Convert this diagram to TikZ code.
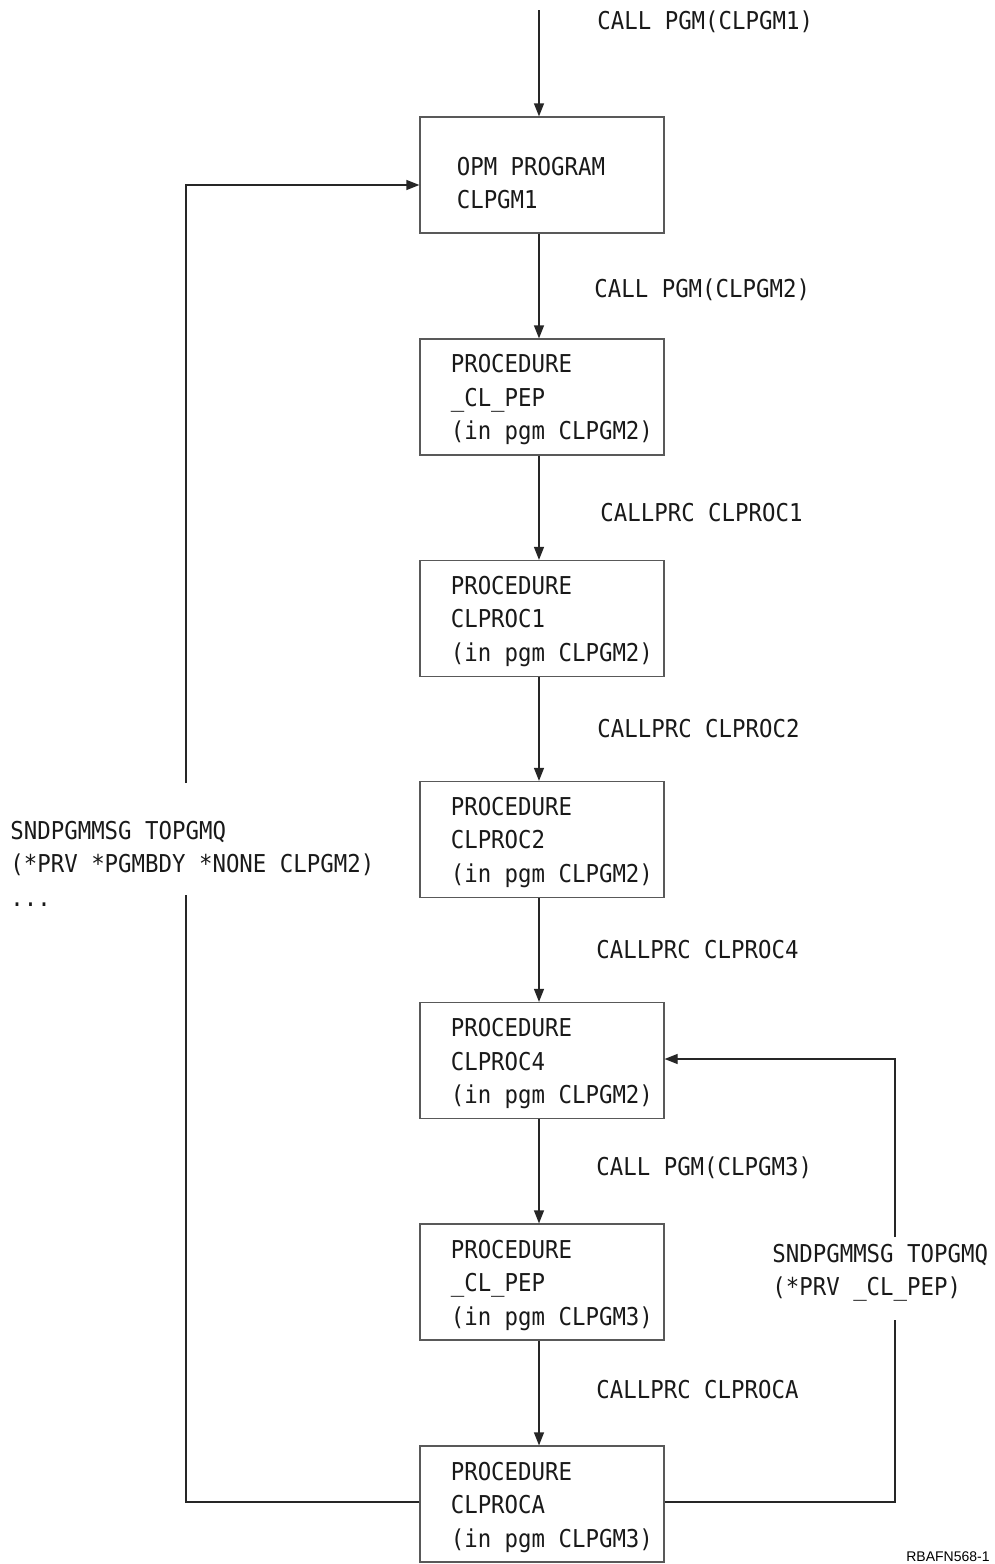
\documentclass[tikz,border=0pt]{standalone}
\usepackage{fontspec}
\setmonofont[FakeStretch=0.91]{DejaVu Sans Mono}
\newfontfamily\labelfont{Liberation Sans}
\usetikzlibrary{arrows.meta}
\tikzset{
  box/.style={draw=black!65, line width=0.6pt, minimum width=122pt, minimum height=58pt, inner sep=0pt},
  txt/.style={font=\ttfamily\fontsize{12.3}{16.75}\selectfont, align=left, inner sep=0pt, anchor=west, text=black!90},
  btxt/.style={txt, yshift=-1.5pt},
  conn/.style={draw=black!85, line width=0.6pt},
  arr/.style={conn, -{Triangle[length=6.5pt,width=5pt]}},
}
\begin{document}
\begin{tikzpicture}[x=0.5pt,y=-0.5pt]
\useasboundingbox (0,0) rectangle (995,1564);
% boxes
\node[box] (b1) at (542,175) {};
\node[box] (b2) at (542,397) {};
\node[box] (b3) at (542,618.5) {};
\node[box] (b4) at (542,839.5) {};
\node[box] (b5) at (542,1060.5) {};
\node[box] (b6) at (542,1282) {};
\node[box] (b7) at (542,1504) {};
% box texts
\node[btxt] (t1) at ([xshift=18.5pt,yshift=-2.5pt]b1.west) {OPM PROGRAM\\CLPGM1};
\node[btxt] (t2) at ([xshift=15.5pt]b2.west) {PROCEDURE\\\_CL\_PEP\\(in pgm CLPGM2)};
\node[btxt] (t3) at ([xshift=15.5pt]b3.west) {PROCEDURE\\CLPROC1\\(in pgm CLPGM2)};
\node[btxt] (t4) at ([xshift=15.5pt]b4.west) {PROCEDURE\\CLPROC2\\(in pgm CLPGM2)};
\node[btxt] (t5) at ([xshift=15.5pt]b5.west) {PROCEDURE\\CLPROC4\\(in pgm CLPGM2)};
\node[btxt] (t6) at ([xshift=15.5pt]b6.west) {PROCEDURE\\\_CL\_PEP\\(in pgm CLPGM3)};
\node[btxt] (t7) at ([xshift=15.5pt]b7.west) {PROCEDURE\\CLPROCA\\(in pgm CLPGM3)};
% top start
\coordinate (start) at (539,10);
\draw[arr] (start) -- (b1.north -| start);
\node[txt] (l0) at (597,22) {CALL PGM(CLPGM1)};
% vertical connectors
\draw[arr] (b1.south -| start) -- (b2.north -| start);
\node[txt] (l1) at (594,290) {CALL PGM(CLPGM2)};
\draw[arr] (b2.south -| start) -- (b3.north -| start);
\node[txt] (l2) at (600,513) {CALLPRC CLPROC1};
\draw[arr] (b3.south -| start) -- (b4.north -| start);
\node[txt] (l3) at (597,729) {CALLPRC CLPROC2};
\draw[arr] (b4.south -| start) -- (b5.north -| start);
\node[txt] (l4) at (596,950) {CALLPRC CLPROC4};
\draw[arr] (b5.south -| start) -- (b6.north -| start);
\node[txt] (l5) at (596,1168) {CALL PGM(CLPGM3)};
\draw[arr] (b6.south -| start) -- (b7.north -| start);
\node[txt] (l6) at (596,1390) {CALLPRC CLPROCA};
% left loop
\node[txt] (ll) at (10,863.5) {SNDPGMMSG TOPGMQ\\(*PRV *PGMBDY *NONE CLPGM2)\\...};
\coordinate (lb) at (186,1502);
\coordinate (lgb) at (186,895);
\coordinate (lgt) at (186,783);
\coordinate (lt) at (186,185);
\draw[conn] (b7.west |- lb) -- (lb) -- (lgb);
\draw[arr] (lgt) -- (lt) -- (b1.west |- lt);
% right loop
\node[txt] (rl) at (772,1273) {SNDPGMMSG TOPGMQ\\(*PRV \_CL\_PEP)};
\coordinate (rb) at (895,1502);
\coordinate (rgb) at (895,1320);
\coordinate (rgt) at (895,1237);
\coordinate (rt) at (895,1059);
\draw[conn] (b7.east |- rb) -- (rb) -- (rgb);
\draw[arr] (rgt) -- (rt) -- (b5.east |- rt);
% figure id
\node[font=\labelfont\fontsize{7}{8}\selectfont, inner sep=0pt, anchor=east] (fid) at (990,1557) {RBAFN568-1};
\end{tikzpicture}
\end{document}
